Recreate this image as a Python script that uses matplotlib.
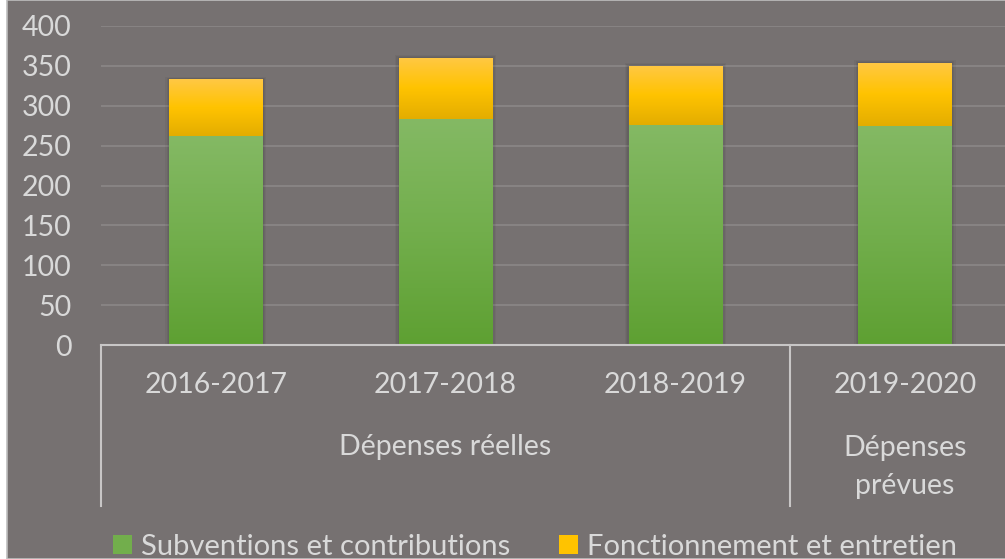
import numpy as np
import matplotlib.pyplot as plt
from matplotlib.patches import Patch, Rectangle
from matplotlib.colors import LinearSegmentedColormap

# DONNÉES
annees = ["2016-2017", "2017-2018", "2018-2019", "2019-2020"]
subventions = [262, 283, 276, 275]
fonctionnement = [71, 77, 74, 79]
groupes = ["Dépenses réelles", "Dépenses\nprévues"]
y_ticks = [0, 50, 100, 150, 200, 250, 300, 350, 400]

FOND = "#767171"
TEXTE = "#d9d9d9"
VERT = ["#5ea032", "#72ae4c", "#84b964"]      # bas -> haut
JAUNE = ["#e3ad00", "#ffc300", "#ffc845"]
TAILLE = 20.5

plt.rcParams['font.family'] = ['Lato', 'DejaVu Sans']

fig = plt.figure(figsize=(10.05, 5.59), dpi=100)
fig.patch.set_facecolor("white")
# fond gris du graphique (petite bande blanche à gauche comme l'original)
fig.patches.append(Rectangle((7 / 1005, 0), 1, 1, transform=fig.transFigure,
                             facecolor=FOND, edgecolor="#bfbfbf", linewidth=1.2, zorder=-10))

ax = fig.add_axes([101 / 1005, 214 / 559, 4 * 229.7 / 1005, 319 / 559])
ax.set_facecolor("none")
x = np.arange(len(annees))
largeur = 0.405


def degrade(barres, couleurs):
    cmap = LinearSegmentedColormap.from_list("g", couleurs)
    grad = np.linspace(0, 1, 256).reshape(-1, 1)
    for b in barres:
        x0, y0 = b.get_x(), b.get_y()
        im = ax.imshow(grad, cmap=cmap, origin="lower", aspect="auto",
                       extent=(x0, x0 + b.get_width(), y0, y0 + b.get_height()), zorder=3)
        im.set_clip_path(b)
        b.set_facecolor("none")


b1 = ax.bar(x, subventions, largeur, color=VERT[1], zorder=3, linewidth=0)
b2 = ax.bar(x, fonctionnement, largeur, bottom=subventions, color=JAUNE[1], zorder=3, linewidth=0)

# ombre légère des barres
for xi, s, f in zip(x, subventions, fonctionnement):
    for k, a in enumerate([0.06, 0.05, 0.04]):
        d = 0.006 * (k + 1)
        ax.add_patch(Rectangle((xi - largeur / 2 - d, 0), largeur + 2 * d, s + f + 1.2 * (k + 1),
                               facecolor="black", alpha=a, linewidth=0, zorder=2))

degrade(b1, VERT)
degrade(b2, JAUNE)

ax.set_xlim(-0.5, 3.5)
ax.set_ylim(0, 400)
ax.set_yticks(y_ticks)
ax.set_yticklabels([str(v) for v in y_ticks], fontsize=TAILLE, color=TEXTE)
ax.tick_params(axis="y", length=0, pad=21)
ax.set_xticks([])
ax.grid(True, axis="y", color="#878383", linewidth=1.5, zorder=0)
for s in ["top", "right", "left"]:
    ax.spines[s].set_visible(False)
ax.spines["bottom"].set_color("#c8c6c6")
ax.spines["bottom"].set_linewidth(1.5)
ax.spines["bottom"].set_zorder(4)

# axe multiniveau
tr = ax.get_xaxis_transform()
for xs in [-0.5, 2.5]:
    ax.plot([xs, xs], [0, -0.505], color="#c8c6c6", linewidth=1.5, transform=tr, clip_on=False)
for xi, lab in zip(x, annees):
    ax.text(xi, -0.125, lab, transform=tr, ha="center", va="center", fontsize=TAILLE, color=TEXTE)
ax.text(1, -0.32, groupes[0], transform=tr, ha="center", va="center", fontsize=TAILLE, color=TEXTE)
ax.text(3, -0.383, groupes[1], transform=tr, ha="center", va="center", fontsize=TAILLE,
        color=TEXTE, linespacing=1.55)

poignees = [Patch(facecolor=VERT[1], edgecolor="none"), Patch(facecolor=JAUNE[1], edgecolor="none")]
leg = fig.legend(poignees, ["Subventions et contributions", "Fonctionnement et entretien"],
                 loc="center", bbox_to_anchor=(535 / 1005, 1 - 547 / 559), ncol=2, frameon=False,
                 fontsize=21, handlelength=0.65, handleheight=0.65, handletextpad=0.3,
                 columnspacing=1.7, borderpad=0)
for t in leg.get_texts():
    t.set_color(TEXTE)

fig.savefig("out.png", dpi=100, facecolor=fig.get_facecolor())
